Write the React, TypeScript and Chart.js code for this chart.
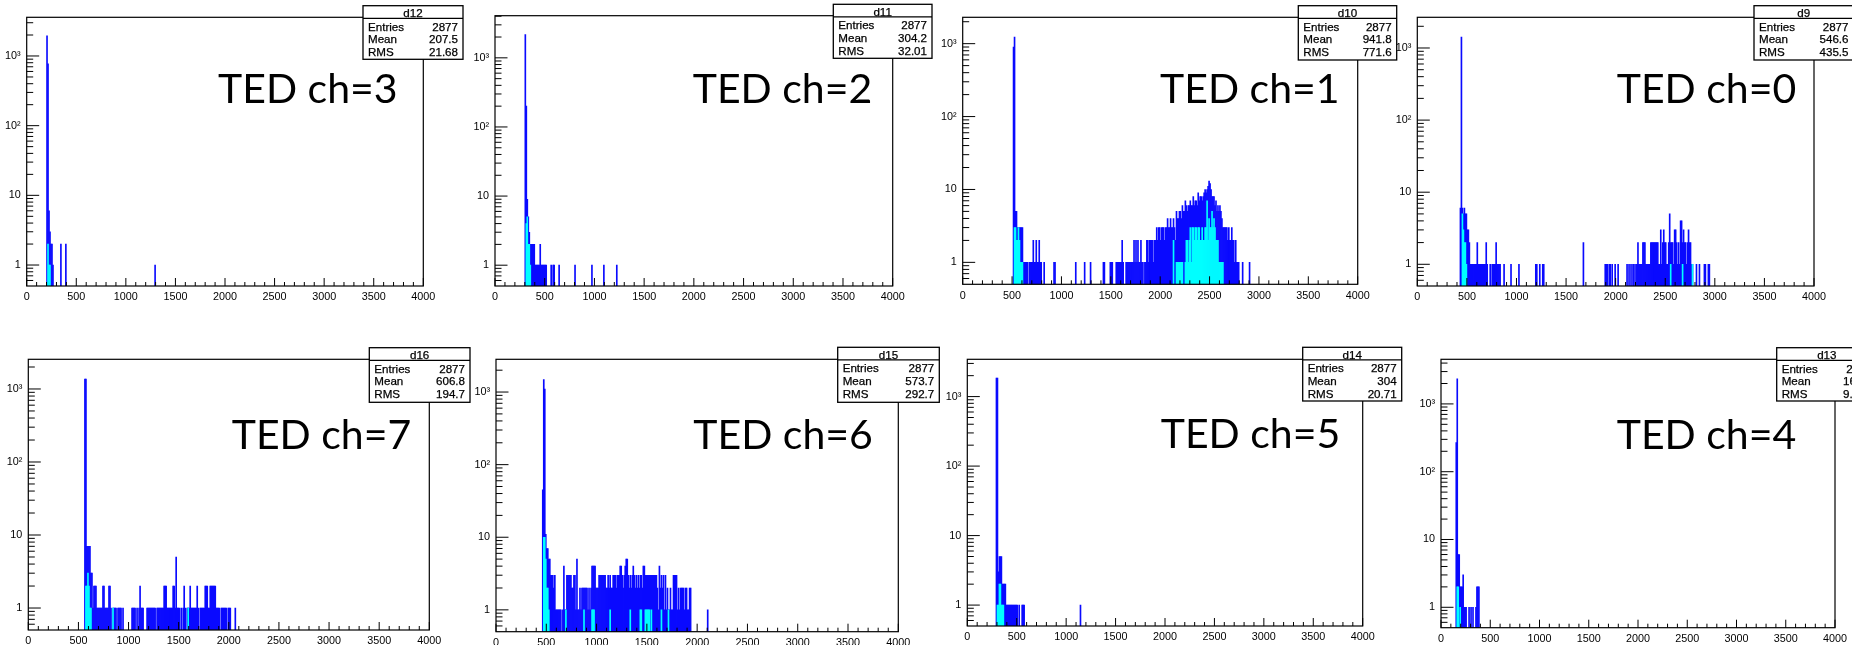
import React, { useEffect, useRef } from 'react';
import { Chart, registerables } from 'chart.js';

Chart.register(...registerables);

// ---------------- axis definitions ----------------
const BIN_WIDTH = 10;
const X_MIN = 0;
const X_MAX = 4000;
const xTickValues = [0, 500, 1000, 1500, 2000, 2500, 3000, 3500, 4000];
const xTickLabels = ['0', '500', '1000', '1500', '2000', '2500', '3000', '3500', '4000'];
const yTickValues = [1, 10, 100, 1000];
const yTickLabels = ['1', '10', '10\u00B2', '10\u00B3'];
const Y_MIN = 0.5;

// ---------------- histogram data: [bin low edge, counts] ----------------
// TED ch=3 (d12)
const ch3Blue = [[200, 1950], [210, 770], [220, 6], [230, 3], [240, 2], [250, 2], [260, 1], [340, 2], [390, 2], [1290, 1]];
const ch3Cyan = [[210, 2], [220, 1], [230, 1]];
const ch3YMax = 3590;

// TED ch=2 (d11)
const ch2Blue = [[300, 2170], [310, 200], [320, 9], [330, 5], [340, 3], [350, 2], [360, 2], [370, 2], [380, 2], [390, 2], [400, 1], [410, 1], [420, 1], [430, 1], [440, 1], [450, 2], [460, 1], [470, 1], [480, 1], [490, 1], [500, 1], [510, 1], [560, 1], [580, 1], [590, 1], [640, 1], [800, 1], [970, 1], [1090, 1], [1220, 1]];
const ch2Cyan = [[310, 4], [320, 5], [330, 2], [340, 2], [350, 1]];
const ch2YMax = 4070;

// TED ch=1 (d10)
const ch1BluePeak = [[510, 900], [520, 1230], [530, 5], [540, 5], [550, 3], [560, 3], [570, 3], [580, 3], [590, 3], [600, 3], [610, 1], [620, 1], [630, 1], [640, 1], [650, 1], [670, 1], [680, 1], [690, 1], [700, 1], [710, 2], [720, 1], [730, 1], [740, 2], [750, 1], [760, 1], [770, 2], [780, 1], [790, 1], [820, 1], [920, 1], [930, 1], [1140, 1], [1230, 1], [1290, 1]];
const ch1BlueBumpStart = 1420;
const ch1BlueBump = [
  1, 1, 0, 0, 0, 0, 0, 1, 1, 1,
  0, 0, 0, 1, 1, 1, 1, 1, 1, 2,
  1, 0, 0, 1, 1, 1, 1, 1, 1, 1,
  1, 2, 1, 2, 1, 2, 1, 1, 2, 1,
  1, 0, 1, 1, 2, 2, 1, 2, 2, 2,
  2, 1, 2, 2, 3, 2, 3, 3, 2, 3,
  3, 3, 2, 3, 3, 4, 3, 3, 4, 3,
  3, 4, 3, 2, 5, 4, 4, 5, 5, 4,
  6, 5, 5, 7, 6, 5, 6, 6, 7, 6,
  6, 8, 6, 7, 7, 6, 9, 7, 8, 8,
  7, 8, 9, 10, 9, 10, 11, 13, 12, 10,
  8, 8, 8, 6, 7, 5, 6, 5, 6, 5,
  4, 3, 3, 3, 3, 3, 2, 3, 2, 2,
  3, 2, 2, 1, 2, 1, 1, 1, 0, 0,
  0, 1, 0, 0, 0, 0, 0, 0, 1,
];
const ch1Cyan = [[520, 3], [530, 3], [540, 2], [550, 2], [560, 3], [570, 2], [580, 1], [590, 1], [600, 1], [2130, 2], [2160, 1], [2170, 1], [2180, 1], [2190, 1], [2200, 1], [2210, 1], [2220, 1], [2250, 1], [2260, 2], [2270, 2], [2280, 1], [2290, 2], [2300, 3], [2310, 1], [2320, 3], [2330, 3], [2340, 2], [2350, 3], [2360, 3], [2370, 2], [2380, 3], [2390, 3], [2400, 2], [2410, 2], [2420, 3], [2430, 2], [2440, 2], [2450, 3], [2460, 3], [2470, 7], [2480, 2], [2490, 4], [2500, 3], [2510, 3], [2520, 5], [2530, 3], [2540, 4], [2550, 3], [2560, 2], [2570, 2], [2580, 2], [2590, 1], [2600, 1], [2610, 1], [2620, 1], [2630, 1]];
const ch1YMax = 2300;

// TED ch=0 (d9)
const ch0Blue = [[430, 6], [440, 1420], [450, 6], [460, 5], [470, 6], [480, 5], [490, 5], [500, 3], [510, 3], [520, 2], [530, 1], [540, 1], [550, 1], [560, 1], [570, 1], [580, 1], [590, 1], [600, 2], [610, 1], [620, 1], [630, 1], [640, 1], [650, 1], [660, 1], [670, 1], [680, 1], [690, 2], [700, 1], [730, 1], [750, 1], [760, 1], [770, 1], [780, 1], [790, 2], [800, 1], [810, 1], [820, 1], [830, 1], [870, 1], [940, 1], [1020, 1], [1190, 1], [1200, 1], [1230, 1], [1260, 1], [1270, 1], [1670, 2], [1890, 1], [1900, 1], [1910, 1], [1930, 1], [1940, 1], [1960, 1], [1990, 1], [2020, 1], [2110, 1], [2130, 1], [2150, 1], [2170, 1], [2180, 1], [2200, 1], [2210, 1], [2220, 2], [2230, 1], [2240, 1], [2250, 1], [2260, 1], [2270, 2], [2280, 2], [2290, 2], [2300, 1], [2310, 1], [2320, 1], [2330, 1], [2340, 1], [2350, 2], [2360, 2], [2370, 2], [2380, 2], [2390, 2], [2400, 2], [2410, 2], [2420, 2], [2430, 1], [2440, 1], [2450, 3], [2460, 1], [2470, 2], [2480, 3], [2490, 2], [2500, 2], [2510, 1], [2520, 1], [2530, 2], [2540, 5], [2550, 2], [2560, 2], [2570, 2], [2580, 1], [2590, 3], [2600, 3], [2610, 2], [2620, 1], [2630, 2], [2640, 1], [2650, 4], [2660, 4], [2670, 2], [2680, 3], [2690, 2], [2700, 2], [2710, 1], [2720, 2], [2730, 3], [2740, 2], [2750, 2], [2760, 1], [2770, 1], [2810, 1], [2840, 1], [2890, 1], [2900, 1], [2930, 1], [2940, 1]];
const ch0Cyan = [[450, 5], [460, 3], [470, 2], [480, 2], [490, 1], [2550, 1], [2670, 1], [2770, 1]];
const ch0YMax = 2665;

// TED ch=7 (d16)
const ch7BlueStart = 560;
const ch7Blue = [
  1370, 1370, 7, 7, 7, 7, 3, 3, 1, 2,
  2, 2, 1, 1, 1, 1, 1, 1, 2, 2,
  1, 1, 1, 1, 2, 2, 1, 0, 1, 1,
  1, 1, 0, 1, 1, 1, 1, 0, 1, 0,
  0, 0, 0, 0, 0, 0, 0, 1, 1, 1,
  1, 0, 1, 0, 1, 2, 1, 1, 1, 0,
  0, 0, 1, 1, 1, 1, 1, 1, 1, 1,
  1, 0, 1, 1, 1, 1, 1, 1, 1, 2,
  2, 2, 1, 1, 1, 1, 1, 1, 2, 2,
  1, 5, 1, 1, 1, 0, 1, 0, 1, 2,
  1, 0, 1, 1, 1, 2, 1, 1, 1, 1,
  1, 1, 2, 1, 0, 1, 1, 1, 1, 1,
  2, 2, 2, 1, 1, 2, 2, 2, 2, 2,
  2, 1, 1, 1, 1, 0, 1, 1, 1, 1,
  1, 1, 0, 1, 1, 1, 0, 0, 0, 0,
  1,
];
const ch7Cyan = [[570, 2], [580, 2], [590, 3], [600, 2], [610, 1], [620, 1], [840, 1], [1590, 1]];
const ch7YMax = 2550;

// TED ch=6 (d15)
const ch6BlueStart = 460;
const ch6Blue = [
  45, 1480, 1100, 11, 7, 7, 5, 5, 3, 3,
  3, 2, 3, 1, 1, 1, 1, 1, 1, 0,
  1, 4, 1, 1, 3, 3, 3, 3, 3, 2,
  2, 3, 3, 1, 5, 1, 1, 2, 1, 2,
  2, 2, 2, 2, 2, 1, 2, 1, 2, 4,
  4, 4, 4, 2, 2, 2, 3, 3, 3, 3,
  3, 3, 3, 2, 2, 3, 2, 3, 2, 2,
  3, 3, 3, 2, 3, 3, 3, 4, 4, 3,
  2, 3, 4, 5, 5, 3, 2, 3, 2, 3,
  4, 3, 2, 3, 2, 3, 2, 3, 3, 2,
  4, 4, 3, 3, 3, 3, 3, 3, 3, 3,
  3, 3, 3, 3, 2, 1, 4, 2, 3, 2,
  3, 1, 3, 1, 2, 1, 1, 2, 1, 1,
  3, 3, 3, 3, 1, 2, 1, 2, 2, 2,
  2, 1, 2, 2, 1, 1, 2, 2,
];
const ch6BlueTail = [[2100, 1]];
const ch6Cyan = [[470, 10], [480, 10], [490, 5], [500, 2], [510, 2], [520, 1], [690, 1], [870, 1], [950, 1], [960, 1], [970, 1], [1130, 1], [1330, 1], [1430, 1], [1440, 1], [1480, 1], [1490, 1], [1500, 1], [1510, 1], [1520, 1], [1540, 1], [1640, 1], [1710, 1]];
const ch6YMax = 2825;

// TED ch=5 (d14)
const ch5Blue = [[290, 1840], [300, 1840], [310, 3], [320, 5], [330, 5], [340, 5], [350, 2], [360, 2], [370, 2], [380, 2], [390, 1], [400, 1], [410, 1], [420, 1], [430, 1], [440, 1], [450, 1], [460, 1], [470, 1], [480, 1], [490, 1], [500, 1], [520, 1], [550, 1], [560, 1], [570, 1], [1140, 1]];
const ch5Cyan = [[300, 1], [310, 1], [320, 2], [330, 2], [340, 1], [350, 1], [360, 1]];
const ch5YMax = 3440;

// TED ch=4 (d13)
const ch4Blue = [[150, 270], [160, 2340], [170, 6], [180, 6], [190, 2], [200, 2], [210, 2], [220, 3], [230, 1], [240, 1], [250, 1], [280, 1], [300, 1], [320, 1], [350, 1], [360, 2], [370, 2], [380, 2]];
const ch4Cyan = [[160, 2], [170, 2], [190, 1]];
const ch4YMax = 4550;

// ---------------- statistics boxes ----------------
const statNames = ['d12', 'd11', 'd10', 'd9', 'd16', 'd15', 'd14', 'd13'];
const statEntries = ['2877', '2877', '2877', '2877', '2877', '2877', '2877', '2877'];
const statMeans = ['207.5', '304.2', '941.8', '546.6', '606.8', '573.7', '304', '165.3'];
const statRms = ['21.68', '32.01', '771.6', '435.5', '194.7', '292.7', '20.71', '9.318'];
const panelLabels = ['TED ch=3', 'TED ch=2', 'TED ch=1', 'TED ch=0', 'TED ch=7', 'TED ch=6', 'TED ch=5', 'TED ch=4'];

function densePairs(start: number, counts: number[]): number[][] {
  return counts.map((c, i) => [start + i * BIN_WIDTH, c]);
}

const seriesBlue = [
  ch3Blue,
  ch2Blue,
  [...ch1BluePeak, ...densePairs(ch1BlueBumpStart, ch1BlueBump)],
  ch0Blue,
  densePairs(ch7BlueStart, ch7Blue),
  [...densePairs(ch6BlueStart, ch6Blue), ...ch6BlueTail],
  ch5Blue,
  ch4Blue,
];
const seriesCyan = [ch3Cyan, ch2Cyan, ch1Cyan, ch0Cyan, ch7Cyan, ch6Cyan, ch5Cyan, ch4Cyan];
const yMaxes = [ch3YMax, ch2YMax, ch1YMax, ch0YMax, ch7YMax, ch6YMax, ch5YMax, ch4YMax];

// ---------------- layout (page pixels) ----------------
const frames = [
  [26.7, 17.3, 423.3, 286],
  [495, 15.7, 892.7, 286],
  [962.7, 17.3, 1357.7, 284.3],
  [1417.3, 17.3, 1814, 286],
  [28.3, 359.3, 429.3, 630],
  [496, 359.3, 898.3, 631.7],
  [967.3, 359.3, 1362.7, 626],
  [1441, 359.3, 1835, 627.7],
];
const statBoxes = [
  [363, 5.7, 463, 59.3],
  [833.3, 4.3, 932, 58.3],
  [1298.3, 5.7, 1396.7, 60],
  [1754, 5.7, 1853.5, 60],
  [369.3, 347.7, 470, 402.3],
  [837.7, 347.3, 939.3, 402.3],
  [1302.7, 347.3, 1401.7, 401],
  [1776.7, 347.7, 1877, 401],
];
const labelPos = [
  [218, 103], [692.7, 103], [1160, 103], [1616.7, 103],
  [231.7, 449], [693.3, 449], [1160.7, 448.3], [1616.7, 449],
];

const BLUE = '#0a0aff';
const CYAN = '#00ffff';
const TICK_FONT = { family: '"Liberation Sans", Arial, sans-serif', size: 10.8 };
const Y_AXIS_W = 36;
const X_AXIS_H = 18;

function toPoints(pairs: number[][]) {
  const m = new Map<number, number>();
  pairs.forEach(([x, c]) => m.set(x, c));
  const pts: { x: number; y: number | null }[] = [];
  for (let b = X_MIN; b < X_MAX; b += BIN_WIDTH) {
    const c = m.get(b);
    pts.push({ x: b + BIN_WIDTH / 2, y: c && c > 0 ? c : null });
  }
  return pts;
}

const rootAxesPlugin = {
  id: 'rootAxes',
  afterDatasetsDraw(chart: any) {
    const { ctx, chartArea: a } = chart;
    const xs = chart.scales.x;
    const ys = chart.scales.y;
    ctx.save();
    ctx.strokeStyle = '#000';
    ctx.lineWidth = 1;
    ctx.beginPath();
    for (let v = X_MIN; v <= X_MAX; v += 100) {
      const px = xs.getPixelForValue(v);
      const len = v % 500 === 0 ? 8 : 4;
      ctx.moveTo(px, a.bottom);
      ctx.lineTo(px, a.bottom - len);
    }
    const decades = [0.1, 1, 10, 100, 1000];
    decades.forEach((d) => {
      for (let m = 1; m <= 9; m++) {
        const v = m * d;
        if (v <= ys.min * 1.0001 || v >= ys.max) continue;
        const py = ys.getPixelForValue(v);
        const len = m === 1 ? 12.5 : 6.5;
        ctx.moveTo(a.left, py);
        ctx.lineTo(a.left + len, py);
      }
    });
    ctx.stroke();
    ctx.lineWidth = 1.2;
    ctx.strokeRect(a.left, a.top, a.right - a.left, a.bottom - a.top);
    ctx.restore();
  },
};

function HistPanel({ idx }: { idx: number }) {
  const ref = useRef<HTMLCanvasElement>(null);
  const [L, T, R, B] = frames[idx];
  const cx = Math.floor(L - 42);
  const cy = Math.floor(T - 14);
  const cw = Math.ceil(R + 18) - cx;
  const chh = Math.ceil(B + 24) - cy;

  useEffect(() => {
    const chart = new Chart(ref.current as HTMLCanvasElement, {
      type: 'bar',
      data: {
        datasets: [
          {
            data: toPoints(seriesCyan[idx]) as any,
            backgroundColor: CYAN,
            borderWidth: 0,
            grouped: false,
            barPercentage: 1,
            categoryPercentage: 1,
            order: 0,
          } as any,
          {
            data: toPoints(seriesBlue[idx]) as any,
            backgroundColor: BLUE,
            borderWidth: 0,
            grouped: false,
            barPercentage: 1,
            categoryPercentage: 1,
            order: 1,
          } as any,
        ],
      },
      options: {
        animation: false,
        responsive: false,
        maintainAspectRatio: false,
        devicePixelRatio: 1,
        events: [],
        layout: {
          autoPadding: false,
          padding: {
            left: L - cx - Y_AXIS_W,
            top: T - cy,
            right: cx + cw - R,
            bottom: cy + chh - B - X_AXIS_H,
          },
        } as any,
        plugins: { legend: { display: false }, tooltip: { enabled: false }, title: { display: false } },
        scales: {
          x: {
            type: 'linear',
            min: X_MIN,
            max: X_MAX,
            offset: false,
            grid: { display: false, drawTicks: false },
            border: { display: false },
            ticks: {
              autoSkip: false,
              maxRotation: 0,
              padding: 5,
              color: '#000',
              font: TICK_FONT,
              callback: (v: any) => {
                const i = xTickValues.indexOf(Number(v));
                return i >= 0 ? xTickLabels[i] : '';
              },
            },
            afterBuildTicks: (s: any) => {
              s.ticks = xTickValues.map((v) => ({ value: v }));
            },
            afterFit: (s: any) => {
              s.height = X_AXIS_H;
            },
          },
          y: {
            type: 'logarithmic',
            min: Y_MIN,
            max: yMaxes[idx],
            grid: { display: false, drawTicks: false },
            border: { display: false },
            ticks: {
              autoSkip: false,
              padding: 6,
              color: '#000',
              font: TICK_FONT,
              callback: (v: any) => {
                const i = yTickValues.indexOf(Number(v));
                return i >= 0 ? yTickLabels[i] : '';
              },
            },
            afterBuildTicks: (s: any) => {
              s.ticks = yTickValues.map((v) => ({ value: v }));
            },
            afterFit: (s: any) => {
              s.width = Y_AXIS_W;
            },
          },
        } as any,
      },
      plugins: [rootAxesPlugin],
    });
    return () => chart.destroy();
  }, [idx]);

  return (
    <canvas
      ref={ref}
      width={cw}
      height={chh}
      style={{ position: 'absolute', left: cx, top: cy, width: cw, height: chh }}
    />
  );
}

export default function App() {
  const statFont = '"Liberation Sans", Arial, sans-serif';
  const tStyle = { fontFamily: statFont, fontSize: 11.6, fill: '#000', stroke: '#000', strokeWidth: 0.25 };
  return (
    <div
      style={{
        position: 'absolute',
        left: 0,
        top: 0,
        width: 1852,
        height: 645,
        overflow: 'hidden',
        background: '#fff',
      }}
    >
      {frames.map((_, i) => (
        <HistPanel key={i} idx={i} />
      ))}
      <svg width={1852} height={645} style={{ position: 'absolute', left: 0, top: 0 }}>
        {statBoxes.map(([l, t, r, b], i) => (
          <g key={i}>
            <rect x={l} y={t} width={r - l} height={b - t} fill="#fff" stroke="#000" strokeWidth={1.3} />
            <line x1={l} x2={r} y1={t + 12.6} y2={t + 12.6} stroke="#000" strokeWidth={1.3} />
            <text x={(l + r) / 2} y={t + 11.2} textAnchor="middle" {...tStyle}>
              {statNames[i]}
            </text>
            <text x={l + 5} y={t + 24.8} {...tStyle}>Entries</text>
            <text x={l + 5} y={t + 37.6} {...tStyle}>Mean</text>
            <text x={l + 5} y={t + 50.5} {...tStyle}>RMS</text>
            <text x={r - 5} y={t + 24.8} textAnchor="end" {...tStyle}>
              {statEntries[i]}
            </text>
            <text x={r - 5} y={t + 37.6} textAnchor="end" {...tStyle}>
              {statMeans[i]}
            </text>
            <text x={r - 5} y={t + 50.5} textAnchor="end" {...tStyle}>
              {statRms[i]}
            </text>
          </g>
        ))}
        {labelPos.map(([x, y], i) => (
          <text key={'l' + i} x={x} y={y} fontFamily="Lato, 'Open Sans', sans-serif" fontSize={41} fill="#000">
            {panelLabels[i]}
          </text>
        ))}
      </svg>
    </div>
  );
}
